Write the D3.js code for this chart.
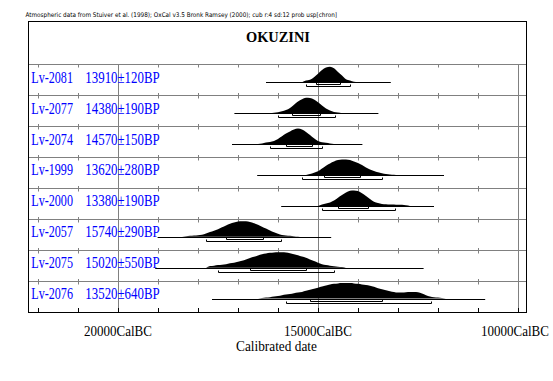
<!DOCTYPE html>
<html><head><meta charset="utf-8">
<script src="https://cdn.jsdelivr.net/npm/d3@7"></script>
<style>body{margin:0;background:#fff}svg{display:block}</style>
</head><body>
<svg id="c" width="553" height="381"></svg>
<script>
// ---- data ----
const headerText = "Atmospheric data from Stuiver et al. (1998); OxCal v3.5 Bronk Ramsey (2000); cub r:4 sd:12 prob usp[chron]";
const titleText = "OKUZINI";
const axisTitle = "Calibrated date";
const labIds = ["Lv-2081","Lv-2077","Lv-2074","Lv-1999","Lv-2000","Lv-2057","Lv-2075","Lv-2076"];
const bpDates = ["13910±120BP","14380±190BP","14570±150BP","13620±280BP","13380±190BP","15740±290BP","15020±550BP","13520±640BP"];
// probability profiles (relative, peak = 100), sampled every 100 cal years starting at densityStart (BC)
const densityStart = [15400, 16200, 16500, 15300, 15000, 18400, 17800, 16500];
const densities = [
  [0,11,17,33,55,80,95,100,91,67,44,20,11,3,0],
  [0,3,6,12,20,33,55,75,90,100,98,88,70,50,30,17,8,4,0],
  [0,4,10,14,20,33,50,68,82,94,100,94,78,58,37,20,12,8,4,0],
  [0,6,15,25,42,60,75,87,96,100,100,96,87,77,64,49,36,26,17,11,6,4,2,0],
  [0,9,15,22,35,53,71,87,98,100,96,82,64,44,27,18,13,11,9,9,7,7,4,0],
  [0,4,6,8,10,14,22,31,39,49,61,73,84,92,98,100,100,96,88,78,65,53,41,29,20,12,8,6,4,2,0],
  [0,11,13,17,19,23,28,32,38,45,53,62,70,79,87,91,96,98,100,100,98,94,87,81,72,64,53,43,32,23,17,13,9,6,4,0],
  [0,4,7,9,13,17,22,26,30,35,39,43,50,57,63,70,78,85,91,96,98,100,100,100,98,96,91,87,83,76,67,61,54,48,43,39,39,41,43,43,41,33,22,13,9,7,4,0]
];
// calibration span (baseline line), 68.2% and 95.4% ranges, cal BC
const calSpan = [[16300,13180],[17090,13490],[17150,13890],[16520,11850],[15920,12100],[19010,14670],[19070,12360],[17650,10820]];
const range68 = [[15060,14460],[15650,14940],[15790,15140],[14850,13940],[14500,13750],[17290,16370],[16710,15290],[15190,13390]];
const range95 = [[15310,14190],[16000,14580],[16210,14890],[15400,13390],[14890,13080],[17810,15920],[17500,14600],[15790,12180]];
const tickYears = [22000,21000,20000,19000,18000,17000,16000,15000,14000,13000,12000,11000,10000];
const labelYears = [20000,15000,10000];

// ---- drawing ----
const svg = d3.select("#c");
svg.append("rect").attr("width",553).attr("height",381).attr("fill","#fff");
const L = 28, R = 526, T = 21, B = 312;
const x = d3.scaleLinear().domain([22250, 9800]).range([L, R]);
const row = d3.scaleBand().domain(labIds).range([64.3, 311.5]);
const h = d3.scaleLinear().domain([0,100]).range([0,15.5]);
const px = v => Math.round(v) + 0.5;
const grey = "#808080";

// condensed text helper: places text starting at x0 with the given total width
function ctext(str, x0, y0, width, size, opts = {}) {
  const g = svg.append("g");
  const t = g.append("text").attr("x",0).attr("y",0)
    .attr("font-family", opts.family || "Liberation Serif, serif")
    .attr("font-size", size).attr("fill", opts.fill || "#000")
    .attr("font-weight", opts.weight || "normal").text(str);
  const w = t.node().getComputedTextLength();
  g.attr("transform", `translate(${x0},${y0}) scale(${width / w},1)`);
  return g;
}

// header
ctext(headerText, 25.5, 16.5, 312, 6.4, {family: "DejaVu Sans, sans-serif"});

// gridlines
svg.selectAll("line.grid").data(labelYears).join("line").attr("class","grid")
  .attr("x1",d=>px(x(d))).attr("x2",d=>px(x(d))).attr("y1",px(row(labIds[0]))).attr("y2",B)
  .attr("stroke",grey).attr("stroke-width",1);

// row lines
svg.selectAll("line.rowline").data(labIds).join("line").attr("class","rowline")
  .attr("x1",L).attr("x2",R).attr("y1",d=>px(row(d))).attr("y2",d=>px(row(d)))
  .attr("stroke",grey).attr("stroke-width",1);

// ticks on row lines
labIds.forEach((id,i)=>{
  const y = px(row(id));
  svg.append("g").selectAll("line").data(tickYears).join("line")
    .attr("x1",d=>px(x(d))).attr("x2",d=>px(x(d)))
    .attr("y1", i===0 ? y : y-2.5).attr("y2", y+3)
    .attr("stroke",grey).attr("stroke-width",1);
});
// bottom axis ticks
svg.append("g").selectAll("line").data(tickYears).join("line")
  .attr("x1",d=>px(x(d))).attr("x2",d=>px(x(d))).attr("y1",B-4).attr("y2",B)
  .attr("stroke","#000").attr("stroke-width",1);

// distributions
labIds.forEach((id,i)=>{
  const base = row(id) + 18;
  const pts = densities[i].map((v,k)=>({yr: densityStart[i] - k*100, p: v}));
  const area = d3.area().x(d=>x(d.yr)).y0(base).y1(d=>base - h(d.p)).curve(d3.curveMonotoneX);
  svg.append("path").attr("d",area(pts)).attr("fill","#000");
  // baseline span
  svg.append("line").attr("x1",x(calSpan[i][0])).attr("x2",x(calSpan[i][1]))
    .attr("y1",px(base)).attr("y2",px(base)).attr("stroke","#000").attr("stroke-width",1);
  // ranges
  [[range68[i],2],[range95[i],4]].forEach(([r,off])=>{
    const yy = px(base+off), a = px(x(r[0])), b = px(x(r[1]));
    svg.append("path").attr("d",`M${a},${yy-2}V${yy}H${b}V${yy-2}`)
      .attr("fill","none").attr("stroke","#000").attr("stroke-width",1);
  });
  // labels
  const ty = row(id) + 18.4;
  ctext(id, 31.3, ty, 41.7, 17, {fill: "#0000ff"});
  ctext(bpDates[i], 85.3, ty, 74.4, 17, {fill: "#0000ff"});
});

// frame
svg.append("rect").attr("x",L+0.5).attr("y",T+0.5).attr("width",R-L).attr("height",B-T)
  .attr("fill","none").attr("stroke","#000").attr("stroke-width",1);

// title
ctext(titleText, 246, 42, 64, 15, {weight: "bold"});

// axis labels
labelYears.forEach(d => ctext(d + "CalBC", Math.min(x(d) - 34, 481), 335.5, 68, 15));
ctext(axisTitle, 236, 350.5, 81, 15);
</script>
</body></html>
